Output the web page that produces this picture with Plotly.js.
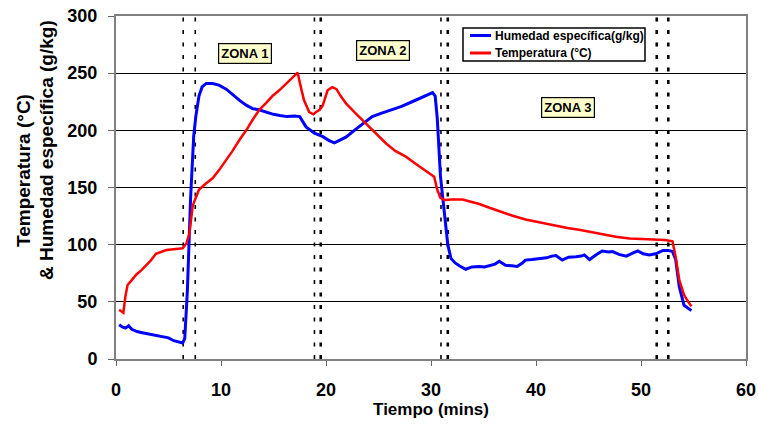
<!DOCTYPE html>
<html>
<head>
<meta charset="utf-8">
<script src="https://cdn.plot.ly/plotly-3.0.1.min.js"></script>
<style>html,body{margin:0;padding:0;background:#fff;}#chart{width:758px;height:427px;}</style>
</head>
<body>
<div id="chart"></div>
<script>
// Humedad específica (g/kg)
var humTime = [0.3,0.6,0.9,1.2,1.5,2.0,2.5,3.0,3.5,4.0,4.5,5.0,5.5,6.0,6.35,6.55,6.8,7.1,7.4,7.6,7.9,8.2,8.6,9.2,9.8,10.5,11.1,11.8,12.4,13.0,13.6,14.3,15.0,15.6,16.3,17.0,17.5,18.1,18.9,19.7,20.3,20.8,21.3,21.9,22.7,23.5,24.4,25.3,26.3,27.2,28.2,29.2,29.8,30.15,30.4,30.6,30.9,31.3,31.6,31.9,32.3,32.7,33.3,33.9,34.6,35.1,35.6,36.1,36.5,37.1,37.7,38.2,38.7,39.0,39.6,40.3,41.0,41.5,41.9,42.5,43.1,43.8,44.3,44.6,45.1,45.7,46.3,46.9,47.3,47.9,48.6,49.2,49.7,50.2,50.8,51.4,52.1,52.6,53.0,53.3,53.65,54.1,54.5,54.8];
var humValues = [30,28,27,29,26,24,23,22,21,20,19,18.5,16,14.5,14,18,60,140,195,212,230,238,241,241,239.5,236,231,226,222,219,218,216,214,213,212,212.5,212,203,197.5,194.5,191,189,191,194,200,206,212,215,218,221,225,229,232,233,230,210,160,125,100,88,84,81.5,78.5,80.5,81,80.5,82,83,85.5,82,81.5,81,84,86.5,87,88,88.5,90,90.5,86.5,89,89.5,90,91,87,91,94.5,93.5,94,91.5,90,92.5,94.5,92,91,92,95,95,94,87,63,47,44,42.3];

// Temperatura (°C)
var tempTime = [0.3,0.7,0.9,1.1,1.5,1.9,2.4,2.85,3.3,3.8,4.3,4.8,5.5,6.35,6.7,7.0,7.3,7.6,7.9,8.5,9.2,9.8,10.5,11.1,11.75,12.4,13.0,13.65,14.3,14.9,15.55,16.2,16.8,17.3,17.6,17.9,18.4,18.8,19.05,19.4,19.7,20.15,20.6,21.0,21.4,21.9,22.8,23.8,24.7,25.7,26.6,27.6,28.5,29.5,30.3,30.6,30.9,31.3,32.0,33.0,33.8,34.6,35.5,36.5,37.7,39.0,40.5,41.9,43.0,44.1,45.2,46.3,47.6,48.9,50.1,51.4,52.3,53.0,53.3,53.65,54.1,54.5,54.8];
var tempValues = [43,40.5,55,64.7,69,73.5,77.5,81.4,86,92,94,95.3,96,96.8,101,110,134,142,148,153,158,165,174,182,191.5,200,209,218,224,230,235,241,246,250.4,238,226.5,216,214,216,218,222,235,237.7,236,230,223.6,215,206,197,188.7,182,177,171,165,159.5,148,141,139,139.5,139.5,137.5,135.6,132.5,129,125.5,122,119,116.3,114.5,113,111,109,107,105.5,105,104,104,103,89.5,69,56,50,46];

// Zone boundary lines (minutes) and their weights
var zoneLines = [6.4,7.55,18.9,19.5,30.95,31.6,51.5,52.6];
var zoneLineHeavy = [false,false,false,true,false,true,true,true];

// Zone labels
var zoneNames = ['ZONA 1','ZONA 2','ZONA 3'];
var zoneX = [12.3,25.4,43.0];
var zoneY = [267.6,270,220.4];

var seriesNames = ['Humedad específica(g/kg)','Temperatura (°C)'];
var seriesColors = ['#0000FF','#FF0000'];
var xTicks = [0,10,20,30,40,50,60];
var yTicks = [0,50,100,150,200,250,300];

var FONT = 'Liberation Sans, Arial, sans-serif';
var L = 116, R = 746, T = 16, B = 359;
function px(xp){ return (xp - L) / (R - L); }
function py(yp){ return (B - yp) / (B - T); }

var traces = [
  {x: humTime, y: humValues, name: seriesNames[0], mode: 'lines', type: 'scatter',
   line: {color: seriesColors[0], width: 3}},
  {x: tempTime, y: tempValues, name: seriesNames[1], mode: 'lines', type: 'scatter',
   line: {color: seriesColors[1], width: 2.5}}
];

var shapes = zoneLines.map(function(v, i){
  return {type: 'line', xref: 'x', yref: 'paper', x0: v, x1: v, y0: 0, y1: 1,
    line: {color: '#000', width: zoneLineHeavy[i] ? 2.6 : 1.6, dash: '4px,8.5px'}, layer: 'below'};
});

// legend box (manual, to match compact original legend)
shapes.push({type: 'rect', xref: 'paper', yref: 'paper', x0: px(463), x1: px(645), y0: py(61), y1: py(28),
  line: {color: '#000', width: 1.5}, fillcolor: '#fff', layer: 'above'});
var legendRows = [35.5, 53];
seriesNames.forEach(function(n, i){
  shapes.push({type: 'line', xref: 'paper', yref: 'paper', x0: px(470), x1: px(491),
    y0: py(legendRows[i]), y1: py(legendRows[i]), line: {color: seriesColors[i], width: 3}, layer: 'above'});
});

var annotations = zoneNames.map(function(n, i){
  return {x: zoneX[i], y: zoneY[i], xref: 'x', yref: 'y', text: n, showarrow: false,
    bgcolor: '#FFFFCC', bordercolor: '#000', borderwidth: 1.2, borderpad: 2,
    font: {family: FONT, size: 13, color: '#000', weight: 'bold'}};
});
seriesNames.forEach(function(n, i){
  annotations.push({xref: 'paper', yref: 'paper', x: px(493), y: py(legendRows[i]), text: n,
    showarrow: false, xanchor: 'left', yanchor: 'middle',
    font: {family: FONT, size: 12, color: '#000', weight: 'bold'}});
});
annotations.push({xref: 'paper', yref: 'paper', x: px(23), y: py(171),
  text: 'Temperatura (°C)', textangle: -90, showarrow: false, xanchor: 'center', yanchor: 'middle',
  font: {family: FONT, size: 19, color: '#000', weight: 'bold'}});
annotations.push({xref: 'paper', yref: 'paper', x: px(46), y: py(150),
  text: '& Humedad específica (g/kg)', textangle: -90, showarrow: false, xanchor: 'center', yanchor: 'middle',
  font: {family: FONT, size: 19, color: '#000', weight: 'bold'}});

var layout = {
  width: 758, height: 427,
  margin: {l: L, r: 758 - R, t: T, b: 427 - B, pad: 0},
  paper_bgcolor: '#fff', plot_bgcolor: '#fff',
  showlegend: false,
  xaxis: {range: [0, 60], tickvals: xTicks, ticktext: xTicks.map(String), ticks: 'outside', ticklen: 5,
    tickcolor: '#666', showgrid: false, zeroline: false, showline: true, mirror: true,
    linecolor: '#808080', linewidth: 2, ticklabelstandoff: 8,
    tickfont: {family: FONT, size: 18, color: '#000', weight: 'bold'},
    title: {text: 'Tiempo (mins)', standoff: 4, font: {family: FONT, size: 17, color: '#000', weight: 'bold'}}},
  yaxis: {range: [0, 300], tickvals: yTicks, ticktext: yTicks.map(String), ticks: 'outside', ticklen: 6,
    tickcolor: '#666', showgrid: true, gridcolor: '#000', gridwidth: 1, zeroline: false,
    showline: true, mirror: true, linecolor: '#808080', linewidth: 2, ticklabelstandoff: 7,
    tickfont: {family: FONT, size: 18, color: '#000', weight: 'bold'}},
  shapes: shapes,
  annotations: annotations
};

Plotly.newPlot('chart', traces, layout, {displayModeBar: false, staticPlot: true});
</script>
</body>
</html>
